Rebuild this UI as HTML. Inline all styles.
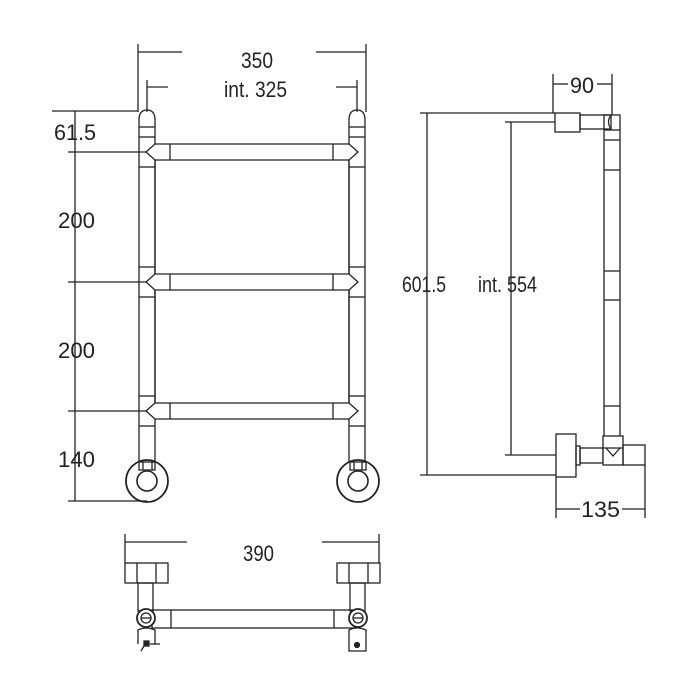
<!DOCTYPE html>
<html><head><meta charset="utf-8"><style>
html,body{margin:0;padding:0;background:#fff;}
svg{display:block;}
text{font-family:"Liberation Sans",sans-serif;font-size:22px;fill:#222;}
</style></head><body>
<svg width="700" height="700" viewBox="0 0 700 700" xmlns="http://www.w3.org/2000/svg">
<g stroke="#222" stroke-width="1.3" fill="none">
<!-- ===== FRONT VIEW ===== -->
<!-- top dims -->
<line x1="138" y1="44" x2="138" y2="112"/><line x1="366" y1="44" x2="366" y2="112"/>
<line x1="138" y1="52" x2="182" y2="52"/><line x1="316" y1="52" x2="366" y2="52"/>
<line x1="147" y1="80" x2="147" y2="112"/><line x1="357" y1="80" x2="357" y2="112"/>
<line x1="147" y1="87" x2="168" y2="87"/><line x1="336" y1="87" x2="357" y2="87"/>
<!-- left vertical dim -->
<line x1="75" y1="111" x2="75" y2="501"/>
<line x1="52" y1="111" x2="138" y2="111"/>
<line x1="68" y1="152" x2="146" y2="152"/>
<line x1="68" y1="282" x2="146" y2="282"/>
<line x1="68" y1="411" x2="146" y2="411"/>
<line x1="68" y1="501" x2="147" y2="501"/>

<!-- tubes -->
<path d="M139 120 Q139 110 147 110 Q155 110 155 120 L155 462 M139 120 L139 462"/>
<line x1="139" y1="127" x2="155" y2="127"/>
<line x1="139" y1="137" x2="155" y2="137"/>
<line x1="139" y1="167" x2="155" y2="167"/>
<line x1="139" y1="267" x2="155" y2="267"/>
<line x1="139" y1="297" x2="155" y2="297"/>
<line x1="139" y1="396" x2="155" y2="396"/>
<line x1="139" y1="426" x2="155" y2="426"/>
<path d="M349 120 Q349 110 357 110 Q365 110 365 120 L365 462 M349 120 L349 462"/>
<line x1="349" y1="127" x2="365" y2="127"/>
<line x1="349" y1="137" x2="365" y2="137"/>
<line x1="349" y1="167" x2="365" y2="167"/>
<line x1="349" y1="267" x2="365" y2="267"/>
<line x1="349" y1="297" x2="365" y2="297"/>
<line x1="349" y1="396" x2="365" y2="396"/>
<line x1="349" y1="426" x2="365" y2="426"/>
</g>
<!-- rails -->
<g stroke="#222" stroke-width="1.3" fill="#fff">
<polygon points="155,144 349,144 358,152 349,160 155,160 146,152"/>
<polygon points="155,274 349,274 358,282 349,290 155,290 146,282"/>
<polygon points="155,403 349,403 358,411 349,419 155,419 146,411"/>
</g>
<g stroke="#222" stroke-width="1.3" fill="none">
<line x1="170" y1="144" x2="170" y2="160"/><line x1="333" y1="144" x2="333" y2="160"/>
<line x1="170" y1="274" x2="170" y2="290"/><line x1="333" y1="274" x2="333" y2="290"/>
<line x1="170" y1="403" x2="170" y2="419"/><line x1="333" y1="403" x2="333" y2="419"/>
<line x1="155" y1="160" x2="155" y2="274"/><line x1="349" y1="160" x2="349" y2="274"/>
<line x1="155" y1="290" x2="155" y2="403"/><line x1="349" y1="290" x2="349" y2="403"/>
<!-- wheels -->
<circle cx="147" cy="481" r="21" stroke-width="1.8"/>
<circle cx="147" cy="481" r="10" stroke-width="1.6"/>
<rect x="139" y="462" width="16" height="8" fill="#fff"/>
<line x1="143" y1="462" x2="143" y2="470"/><line x1="152" y1="462" x2="152" y2="470"/>
<circle cx="358" cy="481" r="21" stroke-width="1.8"/>
<circle cx="358" cy="481" r="10" stroke-width="1.6"/>
<rect x="350" y="462" width="16" height="8" fill="#fff"/>
<line x1="354" y1="462" x2="354" y2="470"/><line x1="362" y1="462" x2="362" y2="470"/>

<!-- ===== SIDE VIEW ===== -->
<line x1="427" y1="113" x2="427" y2="475"/>
<line x1="420" y1="113" x2="555" y2="113"/>
<line x1="420" y1="475" x2="556" y2="475"/>
<line x1="511" y1="122" x2="511" y2="455"/>
<line x1="505" y1="122" x2="555" y2="122"/>
<line x1="505" y1="455" x2="556" y2="455"/>
<line x1="553" y1="74" x2="553" y2="113"/><line x1="612" y1="74" x2="612" y2="115"/>
<line x1="553" y1="84" x2="568" y2="84"/><line x1="597" y1="84" x2="612" y2="84"/>
<line x1="556" y1="477" x2="556" y2="518"/><line x1="645" y1="465" x2="645" y2="518"/>
<line x1="556" y1="509" x2="580" y2="509"/><line x1="622" y1="509" x2="645" y2="509"/>
<rect x="555" y="113" width="25" height="19"/>
<rect x="580" y="115" width="31" height="14"/>
<path d="M611 115 Q606 122 611 129"/>
<rect x="604" y="115" width="16" height="322"/>
<line x1="604" y1="130" x2="620" y2="130"/>
<line x1="604" y1="140" x2="620" y2="140"/>
<line x1="604" y1="170" x2="620" y2="170"/>
<line x1="604" y1="271" x2="620" y2="271"/>
<line x1="604" y1="300" x2="620" y2="300"/>
<line x1="604" y1="406" x2="620" y2="406"/>
<rect x="556" y="434" width="20" height="43" fill="#fff"/>
<rect x="576" y="446" width="4" height="19"/>
<rect x="580" y="448" width="23" height="15"/>
<rect x="603" y="436" width="20" height="29" fill="#fff"/>
<line x1="603" y1="448" x2="623" y2="448"/>
<path d="M606 448 L613 456 L620 448"/>
<rect x="623" y="445" width="22" height="20"/>

<!-- ===== BOTTOM VIEW ===== -->
<line x1="125" y1="534" x2="125" y2="563"/><line x1="379" y1="534" x2="379" y2="563"/>
<line x1="125" y1="542" x2="187" y2="542"/><line x1="322" y1="542" x2="379" y2="542"/>
<rect x="125" y="563" width="43" height="20"/>
<line x1="137" y1="563" x2="137" y2="583"/><line x1="156" y1="563" x2="156" y2="583"/>
<rect x="138" y="583" width="15" height="28"/>
<rect x="337" y="563" width="43" height="20"/>
<line x1="349" y1="563" x2="349" y2="583"/><line x1="368" y1="563" x2="368" y2="583"/>
<rect x="350" y="583" width="15" height="28"/>
<rect x="152" y="610" width="203" height="18"/>
<line x1="171" y1="610" x2="171" y2="628"/><line x1="334" y1="610" x2="334" y2="628"/>
<circle cx="146" cy="618" r="9" fill="#fff" stroke-width="1.8"/>
<circle cx="146" cy="618" r="5"/><line x1="141" y1="618" x2="151" y2="618"/>
<circle cx="358" cy="618" r="9" fill="#fff" stroke-width="1.8"/>
<circle cx="358" cy="618" r="5"/><line x1="353" y1="618" x2="363" y2="618"/>
<path d="M138 644 L138 630 Q146 626 155 630 L155 644"/>
<line x1="150" y1="644" x2="160" y2="644"/>
<path d="M349 651 L349 630 Q357 626 366 630 L366 651 Z"/>
<circle cx="357" cy="645" r="2.5" fill="#222"/>
<rect x="144" y="641" width="5" height="5" fill="#222"/>
<line x1="144" y1="646" x2="141" y2="651"/>
</g>
<!-- texts -->
<text x="241" y="68" textLength="32" lengthAdjust="spacingAndGlyphs">350</text>
<text x="224" y="97" textLength="63" lengthAdjust="spacingAndGlyphs">int. 325</text>
<text x="54" y="140" textLength="42" lengthAdjust="spacingAndGlyphs">61.5</text>
<text x="58" y="228" textLength="37" lengthAdjust="spacingAndGlyphs">200</text>
<text x="58" y="358" textLength="37" lengthAdjust="spacingAndGlyphs">200</text>
<text x="58" y="467" textLength="37" lengthAdjust="spacingAndGlyphs">140</text>
<text x="402" y="292" textLength="44" lengthAdjust="spacingAndGlyphs">601.5</text>
<text x="478" y="292" textLength="59" lengthAdjust="spacingAndGlyphs">int. 554</text>
<text x="570" y="93" textLength="24" lengthAdjust="spacingAndGlyphs">90</text>
<text x="581" y="517" textLength="39" lengthAdjust="spacingAndGlyphs">135</text>
<text x="243" y="561" textLength="31" lengthAdjust="spacingAndGlyphs">390</text>
</svg>
</body></html>
